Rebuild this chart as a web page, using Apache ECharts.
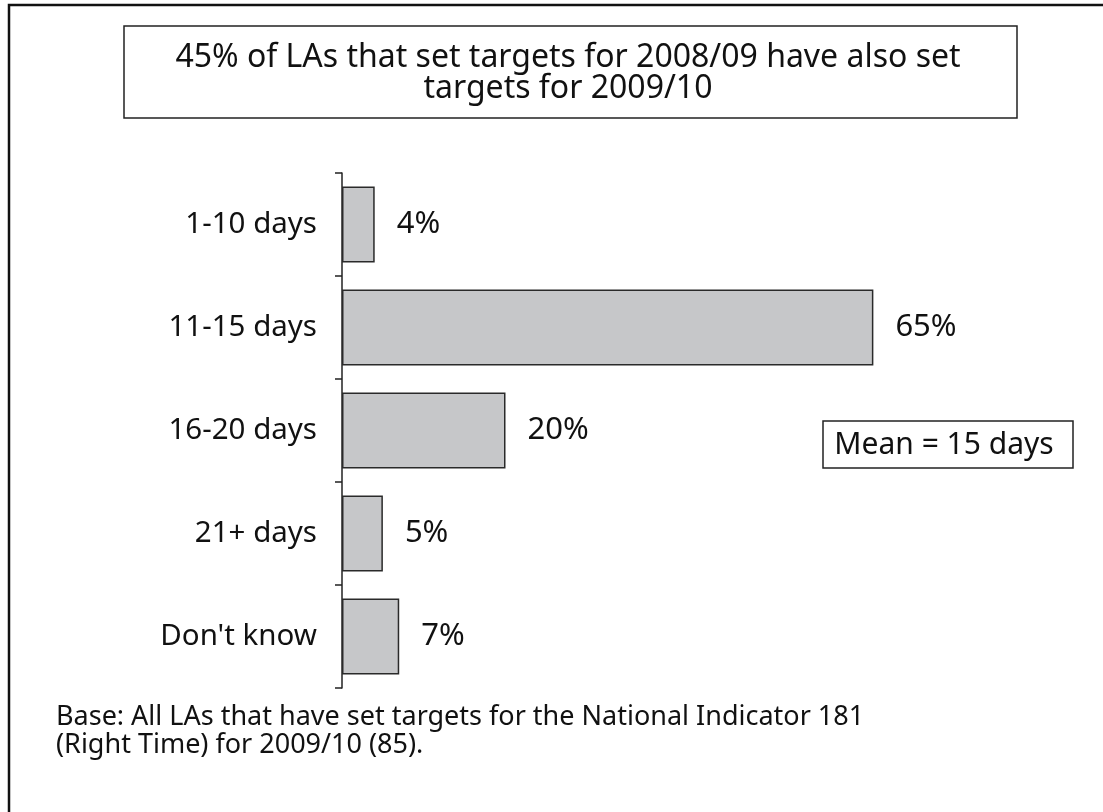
<!DOCTYPE html>
<html>
<head>
<meta charset="utf-8">
<style>
  html, body { margin: 0; padding: 0; background: #fff; }
  #chart { width: 1103px; height: 812px; }
</style>
<script src="https://cdn.jsdelivr.net/npm/echarts@6/dist/echarts.min.js"></script>
</head>
<body>
<div id="chart"></div>
<script>
// categories (top to bottom) and share of LAs in %
const categories = ['1-10 days', '11-15 days', '16-20 days', '21+ days', "Don't know"]
const shares = [4, 65, 20, 5, 7]

const titleLines = ['45% of LAs that set targets for 2008/09 have also set', 'targets for 2009/10']
const meanNote = 'Mean = 15 days'
const baseLines = [
  'Base: All LAs that have set targets for the National Indicator 181',
  '(Right Time) for 2009/10 (85).'
]

const FONT = '"Noto Sans", "Open Sans", sans-serif'
const INK = '#111'

const chart = echarts.init(document.getElementById('chart'))

const option = {
  backgroundColor: '#fff',
  animation: false,
  grid: {
    left: 342,
    top: 173,
    height: 515,
    width: 654
  },
  xAxis: {
    type: 'value',
    min: 0,
    max: 80,
    show: false
  },
  yAxis: {
    type: 'category',
    inverse: true,
    data: categories,
    axisLine: { lineStyle: { color: '#222', width: 1.5 } },
    axisTick: { show: true, length: 7, lineStyle: { color: '#222', width: 1.5 } },
    axisLabel: {
      color: INK,
      fontFamily: FONT,
      fontSize: 29.5,
      margin: 25
    },
    splitLine: { show: false }
  },
  series: [{
    type: 'bar',
    data: shares,
    barCategoryGap: '26%',
    itemStyle: {
      color: '#c6c7c9',
      borderColor: '#2a2a2a',
      borderWidth: 1.5
    },
    label: {
      show: true,
      position: 'right',
      distance: 22,
      formatter: '{c}%',
      color: INK,
      fontFamily: FONT,
      fontSize: 31
    }
  }],
  graphic: [
    // outer frame (only top and left edges visible in the picture)
    {
      type: 'rect',
      shape: { x: 9, y: 5, width: 1200, height: 900 },
      style: { fill: 'none', stroke: '#111', lineWidth: 2.5 },
      silent: true
    },
    // title box
    {
      type: 'rect',
      shape: { x: 124, y: 26, width: 893, height: 92 },
      style: { fill: '#fff', stroke: '#222', lineWidth: 1.5 }
    },
    {
      type: 'text',
      x: 568,
      y: 58,
      style: {
        text: titleLines[0],
        fill: INK,
        font: '32px ' + FONT,
        align: 'center',
        verticalAlign: 'middle'
      }
    },
    {
      type: 'text',
      x: 568,
      y: 89,
      style: {
        text: titleLines[1],
        fill: INK,
        font: '32px ' + FONT,
        align: 'center',
        verticalAlign: 'middle'
      }
    },
    // mean box
    {
      type: 'rect',
      shape: { x: 823, y: 421, width: 250, height: 47 },
      style: { fill: '#fff', stroke: '#222', lineWidth: 1.5 }
    },
    {
      type: 'text',
      x: 944,
      y: 445,
      style: {
        text: meanNote,
        fill: INK,
        font: '30px ' + FONT,
        align: 'center',
        verticalAlign: 'middle'
      }
    },
    // base note
    {
      type: 'text',
      x: 56,
      y: 703,
      style: {
        text: baseLines.join('\n'),
        fill: INK,
        font: '27px ' + FONT,
        lineHeight: 28,
        align: 'left',
        verticalAlign: 'top'
      }
    }
  ]
}

chart.setOption(option)
</script>
</body>
</html>
